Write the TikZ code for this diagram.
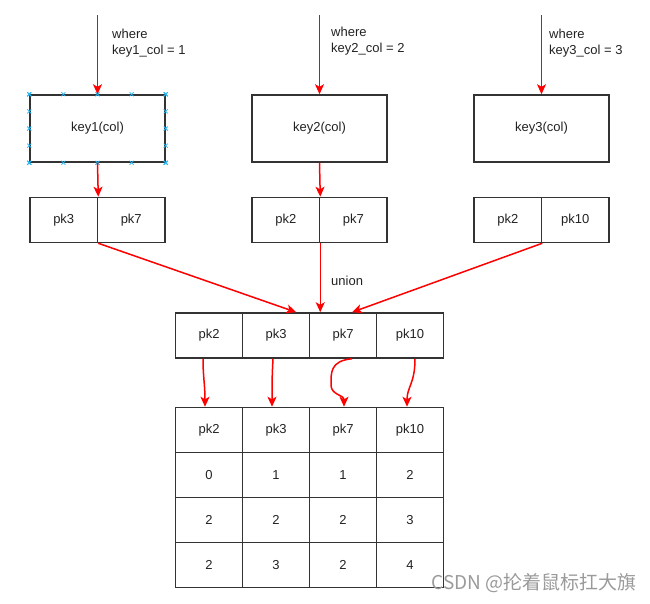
\documentclass[tikz,border=0pt]{standalone}
\usepackage{fontspec}
\setmainfont{Liberation Sans}
\newfontfamily\cjkfont{Noto Sans CJK SC}
\usetikzlibrary{arrows.meta,calc}
\definecolor{arrred}{HTML}{FF0000}
\definecolor{boxline}{HTML}{333333}
\definecolor{txt}{HTML}{222222}
\definecolor{handle}{HTML}{29B6F2}
\definecolor{wm}{HTML}{9A9A9A}
\begin{document}
\begin{tikzpicture}[x=1pt,y=-1pt,
  every node/.style={font=\fontsize{13}{16}\selectfont, text=txt},
  keybox/.style={draw=boxline, line width=1.5pt, rectangle, minimum width=135pt, minimum height=67pt, inner sep=0pt},
  cellbox/.style={draw=boxline, line width=1.5pt, rectangle, minimum width=67.5pt, minimum height=45pt, inner sep=0pt},
  tcell/.style={draw=boxline, line width=1.5pt, rectangle, minimum width=67pt, minimum height=45pt, inner sep=0pt},
  redarrow/.style={draw=arrred, line width=1.5pt, -{Stealth[length=10pt,width=9pt,inset=2.5pt]}},
  lbl/.style={align=left, anchor=west, inner sep=0pt},
  hmark/.style={draw=handle, line width=0.8pt}
]
\useasboundingbox (0,0) rectangle (650,603);

% key boxes
\node[keybox] (k1) at (97.5,128.5) {key1(col)};
\node[keybox] (k2) at (319.5,128.5) {key2(col)};
\node[keybox] (k3) at (541.5,128.5) {key3(col)};

% selection handles on key1
\foreach \f in {0,0.25,0.5,0.75,1}{
  \path ($(k1.north west)!\f!(k1.north east)$) coordinate (ha);
  \path ($(k1.south west)!\f!(k1.south east)$) coordinate (hb);
  \path ($(k1.north west)!\f!(k1.south west)$) coordinate (hc);
  \path ($(k1.north east)!\f!(k1.south east)$) coordinate (hd);
  \foreach \h in {ha,hb,hc,hd}{
    \draw[hmark] ($(\h)+(-2,-2)$) -- ($(\h)+(2,2)$);
    \draw[hmark] ($(\h)+(-2,2)$) -- ($(\h)+(2,-2)$);
  }
}

% pk pairs
\node[cellbox] (p1a) at (63.75,220) {pk3};
\node[cellbox] (p1b) at (131.25,220) {pk7};
\node[cellbox] (p2a) at (285.75,220) {pk2};
\node[cellbox] (p2b) at (353.25,220) {pk7};
\node[cellbox] (p3a) at (507.75,220) {pk2};
\node[cellbox] (p3b) at (575.25,220) {pk10};

% union row
\node[tcell] (u1) at (209,335.5) {pk2};
\node[tcell] (u2) at (276,335.5) {pk3};
\node[tcell] (u3) at (343,335.5) {pk7};
\node[tcell] (u4) at (410,335.5) {pk10};

% result table
\node[tcell] (t1) at (209,430) {pk2};
\node[tcell] (t2) at (276,430) {pk3};
\node[tcell] (t3) at (343,430) {pk7};
\node[tcell] (t4) at (410,430) {pk10};
\node[tcell] (a1) at (209,475) {0};
\node[tcell] (a2) at (276,475) {1};
\node[tcell] (a3) at (343,475) {1};
\node[tcell] (a4) at (410,475) {2};
\node[tcell] (b1) at (209,520) {2};
\node[tcell] (b2) at (276,520) {2};
\node[tcell] (b3) at (343,520) {2};
\node[tcell] (b4) at (410,520) {3};
\node[tcell] (c1) at (209,565) {2};
\node[tcell] (c2) at (276,565) {3};
\node[tcell] (c3) at (343,565) {2};
\node[tcell] (c4) at (410,565) {4};

% top arrows and labels
\coordinate (s1) at (97.5,15);
\coordinate (s2) at (319.5,15);
\coordinate (s3) at (541.5,15);
\draw[redarrow] (s1) -- (k1.north);
\draw[redarrow] (s2) -- (k2.north);
\draw[redarrow] (s3) -- (k3.north);
\node[lbl] (l1) at (112,43.5) {where\\key1\_col = 1};
\node[lbl] (l2) at (331,41.5) {where\\key2\_col = 2};
\node[lbl] (l3) at (549,43.5) {where\\key3\_col = 3};

% key -> pk
\draw[redarrow] (k1.south) -- (p1a.north east);
\draw[redarrow] (k2.south) -- (p2a.north east);

% union arrows
\draw[redarrow] (p1a.south east) -- ($(u2.north east)+(-14,0)$);
\draw[redarrow] (p2a.south east) -- (p2a.south east |- u3.north);
\draw[redarrow] (p3a.south east) -- ($(u3.north)+(9,0)$);
\node[anchor=west, inner sep=0pt] (un) at (331,281) {union};

% curved arrows
\draw[redarrow] ($(u1.south)+(-6,0)$) .. controls +(0,18) and +(0,-22) .. ($(t1.north)+(-4,0)$);
\draw[redarrow] ($(u2.south)+(-3,0)$) .. controls +(-1,18) and +(0,-22) .. ($(t2.north)+(-4,0)$);
\coordinate (m7) at (331,385);
\draw[redarrow] ($(u3.south)+(9,0)$) .. controls +(-22,2) and +(0,-12) .. (m7) .. controls +(0,10) and +(0,-12) .. ($(t3.north)+(1,0)$);
\draw[redarrow] ($(u4.south)+(5,0)$) .. controls +(0,25) and +(0,-20) .. ($(t4.north)+(-3,0)$);

% watermark
\node[anchor=east, inner sep=0pt, text=wm, font=\cjkfont\fontsize{19}{19}\selectfont] (wmk) at (637,583) {CSDN @抡着鼠标扛大旗};
\end{tikzpicture}
\end{document}
